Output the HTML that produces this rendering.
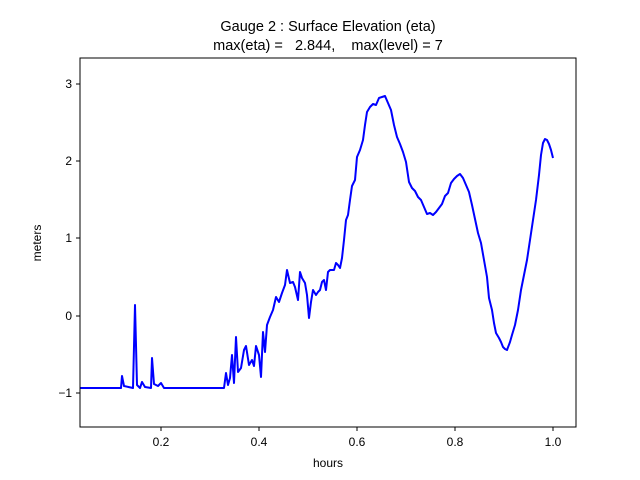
<!DOCTYPE html>
<html><head><style>body{margin:0;background:#fff}svg{display:block}</style></head><body>
<svg width="640" height="480" xmlns="http://www.w3.org/2000/svg" font-family="Liberation Sans, DejaVu Sans, sans-serif">
<rect width="640" height="480" fill="#fff"/>
<text x="328" y="31" font-size="14.5" text-anchor="middle">Gauge 2 : Surface Elevation (eta)</text>
<text x="328" y="50" font-size="14.5" text-anchor="middle" xml:space="preserve">max(eta) =   2.844,    max(level) = 7</text>
<polyline fill="none" stroke="#0000ff" stroke-width="2" stroke-linejoin="round" points="80,388 121,388 122,376 124,386 133,388 135,305 137,385 140,388 142,382 145,387 151,388 152,358 154,384 158,386 161,383 164,388 224,388 226,373 228,385 230,378 232,355 234,383 236,337 238,372 241,368 244,350 246,346 249,365 252,360 254,366 256,346 259,355 261,377 263,332 265,352 267,325 270,317 273,310 276,297 279,302 282,293 285,285 287,270 290,283 293,282 295,287 298,300 300,272 302,278 305,283 307,295 309,318 311,302 313,290 316,295 318,292 320,290 322,282 324,280 326,290 328,272 330,270 334,270 336,263 338,265 340,268 342,258 344,240 346,220 348,215 350,200 352,186 355,180 357,157 360,150 363,140 365,125 367,112 370,107 373,104 376,105 379,98 382,97 385,96 388,103 391,110 394,125 397,137 400,144 403,152 406,162 409,182 412,188 415,191 418,197 421,200 424,207 427,214 430,213 433,215 436,212 439,208 442,204 445,196 448,193 451,183 454,179 457,176 460,174 463,178 466,185 469,192 472,205 475,219 478,233 481,243 484,260 487,277 489,298 492,310 494,323 496,333 499,338 501,342 503,347 505,349 507,350 510,342 512,335 515,325 518,310 521,290 524,275 527,260 530,240 533,220 536,200 539,175 541,155 543,143 545,139 547,140 549,144 551,150 553,158"/>
<rect x="80" y="58" width="496" height="369" fill="none" stroke="#000" stroke-width="1"/>
<g stroke="#000" stroke-width="1">
<line x1="161" y1="427" x2="161" y2="431"/><line x1="259" y1="427" x2="259" y2="431"/><line x1="357" y1="427" x2="357" y2="431"/><line x1="455" y1="427" x2="455" y2="431"/><line x1="553" y1="427" x2="553" y2="431"/>
<line x1="76" y1="84" x2="80" y2="84"/><line x1="76" y1="161" x2="80" y2="161"/><line x1="76" y1="238" x2="80" y2="238"/><line x1="76" y1="316" x2="80" y2="316"/><line x1="76" y1="393" x2="80" y2="393"/>
</g>
<g font-size="12" text-anchor="middle">
<text x="161" y="446">0.2</text><text x="259" y="446">0.4</text><text x="357" y="446">0.6</text><text x="455" y="446">0.8</text><text x="553" y="446">1.0</text>
<text x="328" y="467">hours</text>
</g>
<g font-size="12" text-anchor="end">
<text x="72" y="88">3</text><text x="72" y="165">2</text><text x="72" y="242">1</text><text x="72" y="320">0</text><text x="72" y="397">−1</text>
</g>
<text x="41" y="243" font-size="12" text-anchor="middle" transform="rotate(-90 41 243)">meters</text>
</svg>
</body></html>
